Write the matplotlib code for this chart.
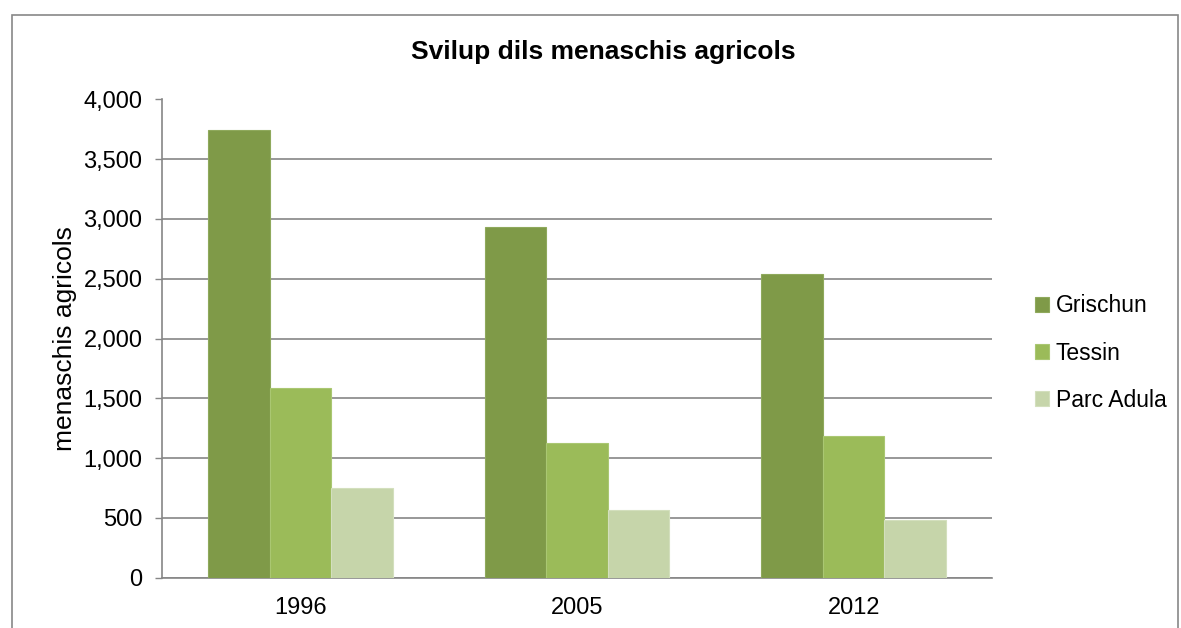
import numpy as np
import matplotlib
matplotlib.use('Agg')
import matplotlib.pyplot as plt
from matplotlib.patches import Rectangle
from matplotlib.ticker import FuncFormatter

plt.rcParams['font.family'] = ['Liberation Sans', 'DejaVu Sans']

years = ['1996', '2005', '2012']
series = ['Grischun', 'Tessin', 'Parc Adula']
grischun = [3745, 2936, 2537]
tessin = [1583, 1123, 1184]
parc_adula = [746, 565, 481]
colors = ['#7f9a48', '#9bbb59', '#c6d5aa']
edges = ['#8fa95c', '#aac772', '#d3dfbd']

fig = plt.figure(figsize=(11.81, 6.28), dpi=100)
ax = fig.add_axes([162 / 1181, 1 - 577.5 / 628, 830 / 1181, 478 / 628])

# outer chart border
fig.patches.append(Rectangle((12 / 1181, -0.05), 1166 / 1181, 1.05 - 15 / 628,
                             transform=fig.transFigure, fill=False,
                             edgecolor='#888888', linewidth=1.2))

x = np.arange(len(years))
w = 0.667 / 3
for i, vals in enumerate([grischun, tessin, parc_adula]):
    ax.bar(x + (i - 1) * w, vals, width=w, color=colors[i], edgecolor=edges[i],
           linewidth=0.8, label=series[i], zorder=3)

ax.set_xlim(-0.5, 2.5)
ax.set_ylim(0, 4000)
ax.set_yticks(np.arange(0, 4001, 500))
ax.yaxis.set_major_formatter(FuncFormatter(lambda v, p: f'{int(v):,}'))
ax.set_xticks(x)
ax.set_xticklabels(years)
ax.grid(axis='y', color='#868686', linewidth=1.2, zorder=0)
ax.set_axisbelow(True)

for s in ['top', 'right']:
    ax.spines[s].set_visible(False)
ax.spines['left'].set_color('#868686')
ax.spines['bottom'].set_color('#868686')
ax.spines['left'].set_linewidth(1.2)
ax.spines['bottom'].set_linewidth(1.2)
ax.tick_params(axis='y', length=5, width=1, color='#868686', pad=9, labelsize=17)
ax.tick_params(axis='x', length=0, pad=14, labelsize=17)

ax.set_ylabel('menaschis agricols', fontsize=19, labelpad=5)

fig.text(603 / 1181, 1 - 52 / 628, 'Svilup dils menaschis agricols', ha='center',
         va='center', fontsize=19, fontweight='bold')

ax.legend(loc='center left', bbox_to_anchor=(1026 / 830 - 162 / 830, 1 - (353 - 99.5) / 478),
          frameon=False, fontsize=16.5, handlelength=0.6, handleheight=0.6,
          handletextpad=0.3, labelspacing=1.05, borderaxespad=0)

fig.savefig('out.png', dpi=100)
